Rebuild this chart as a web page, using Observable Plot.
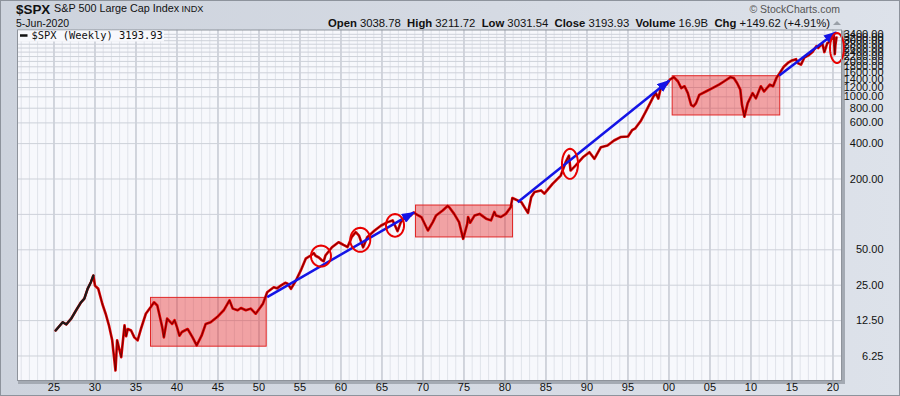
<!DOCTYPE html>
<html><head><meta charset="utf-8">
<script src="https://cdn.jsdelivr.net/npm/d3@7"></script>
<script src="https://cdn.jsdelivr.net/npm/@observablehq/plot@0.6"></script>
<style>
html,body{margin:0;padding:0;}
body{width:900px;height:396px;overflow:hidden;background:linear-gradient(90deg,#cdd3dd 0%,#d5dae3 55%,#dde2ea 100%);font-family:"Liberation Sans",Arial,sans-serif;}
#wrap{position:relative;width:900px;height:396px;}
#border{position:absolute;left:0;top:0;width:898px;height:394px;border:1px solid #8d939c;pointer-events:none;}
#hdr{display:block;}
#chart svg{display:block;}
</style></head><body><div id="wrap"><svg id="hdr" width="900" height="29"></svg><div id="chart"></div><div id="border"></div></div>
<script>
// ---- weekly close series (year, value) ----
const years = [1925.2,1926.06,1926.5,1927.1,1927.7,1928.3,1928.7,1929.1,1929.5,1929.8,1930.0,1930.4,1930.9,1931.3,1931.7,1932.1,1932.5,1932.7,1933.2,1933.6,1934.0,1934.4,1934.8,1935.2,1935.6,1936.2,1936.8,1937.2,1937.6,1938.2,1938.4,1938.8,1939.4,1940.0,1940.6,1941.3,1941.9,1942.4,1943.0,1943.5,1944.1,1944.9,1945.7,1946.4,1946.8,1947.4,1947.8,1948.4,1949.0,1949.6,1950.2,1950.5,1951.0,1951.8,1952.2,1952.7,1953.2,1953.5,1953.9,1954.5,1955.1,1955.7,1956.3,1956.7,1956.9,1957.3,1957.7,1957.9,1958.1,1958.9,1959.7,1960.1,1960.3,1960.8,1961.3,1961.8,1962.2,1962.7,1963.2,1964.1,1964.9,1965.7,1966.3,1966.6,1966.9,1967.3,1968.1,1968.5,1968.9,1969.1,1969.8,1970.6,1971.2,1971.6,1972.4,1973.2,1973.8,1974.4,1974.9,1975.4,1976.3,1976.9,1977.7,1978.3,1978.9,1979.5,1980.1,1980.7,1981.1,1982.0,1982.8,1983.2,1983.6,1984.4,1984.8,1985.8,1986.8,1987.4,1987.8,1988.0,1988.6,1989.5,1990.3,1990.9,1991.7,1992.5,1993.3,1994.1,1995.0,1995.5,1995.9,1996.6,1997.2,1997.7,1998.1,1998.4,1998.7,1999.0,1999.5,1999.7,2000.1,2000.6,2001.1,2001.5,2001.9,2002.3,2002.7,2003.0,2003.3,2003.7,2004.5,2005.3,2006.1,2006.7,2007.5,2007.9,2008.3,2008.7,2008.9,2009.2,2009.6,2010.2,2010.6,2011.2,2011.6,2012.3,2012.7,2013.1,2013.5,2014.0,2014.5,2015.0,2015.5,2015.7,2016.1,2016.5,2017.0,2017.5,2018.0,2018.2,2018.7,2018.95,2019.3,2019.6,2019.9,2020.1,2020.22,2020.3,2020.43];
const closes = [10.3,12.1,11.6,13.0,15.3,17.9,19.2,23.3,26.5,30.2,24.8,23.3,17.3,14.3,11.4,8.5,4.7,8.5,6.1,11.4,10.6,10.3,9.0,8.5,10.6,14.3,16.3,17.9,16.8,11.0,9.0,13.0,11.7,11.0,10.0,10.6,9.0,7.7,9.3,11.7,12.1,13.4,15.3,18.6,15.8,15.3,16.0,15.3,15.8,14.3,16.3,17.5,21.8,24.0,23.5,24.9,26.2,25.7,23.3,27.4,33.4,42.0,44.7,46.8,44.5,43.0,40.6,40.0,44.7,52.5,58.0,56.0,55.0,52.8,64.0,70.6,66.0,52.5,64.0,73.0,80.5,86.0,88.9,80.0,72.0,86.0,97.9,98.0,104,101,95,73,86,98,108,115,101,86,62,83,98,101,92,89,98,95,101,115,136,127,103,140,155,160,150,182,214,278,316,236,260,306,338,297,373,385,425,455,460,520,540,630,755,884,1005,1075,965,1185,1310,1270,1400,1470,1350,1185,1230,1075,855,830,884,1040,1110,1185,1270,1350,1470,1445,1310,1150,855,678,884,1075,970,1230,1110,1270,1230,1445,1590,1800,1940,2040,2090,1940,1880,2150,2250,2400,2700,2600,2850,2400,2850,2950,3200,3350,2300,2750,3193.93];
// extra swings
const extraYears  = [1933.8, 1939.7, 1940.3, 1973.0, 1975.5, 1975.75, 1978.7, 1980.9];
const extraCloses = [9.2, 12.6, 9.3, 118, 95, 85, 105, 138];
const earlyRallyEnd = 1929.8; // last point of the dark early advance

// ---- annotation data ----
const boxStart = [1936.83, 1969.15, 2000.45];
const boxEnd   = [1950.94, 1980.98, 2013.57];
const boxLow   = [7.5, 63.7, 694];
const boxHigh  = [19.5, 119, 1497];

const arrowFromYear  = [1951.0, 1981.55, 2013.45];
const arrowFromValue = [19.8, 127, 1516];
const arrowToYear    = [1968.9, 2000.04, 2020.37];
const arrowToValue   = [104, 1376, 3543];

const circleYear  = [1957.56, 1962.35, 1966.59, 1987.93, 2020.49];
const circleValue = [44.2, 60.8, 80.7, 269, 2600];
const circleHalfWidthYears = [1.22, 1.22, 1.10, 0.98, 0.85];
const circleHalfHeightLog2 = [0.297, 0.339, 0.319, 0.424, 0.424];

// ---- axes ----
const xTickYears = d3.range(1925, 2021, 5);
const xGridYears = d3.range(1921, 2021, 1);
const yTickValues = [6.25, 12.5, 25, 50, 200, 400, 600, 800, 1000, 1200, 1400, 1600, 1800, 2000, 2200, 2400, 2600, 2800, 3000, 3200, 3400];
const yGridValues = [6.25, 12.5, 25, 50, 100, 200, 400, 600, 800, 1000, 1200, 1400, 1600, 1800, 2000, 2200, 2400, 2600, 2800, 3000, 3200, 3400];

const series = years.map((year, i) => ({year, close: closes[i]}))
  .concat(extraYears.map((year, i) => ({year, close: extraCloses[i]})))
  .sort((a, b) => a.year - b.year);
const boxes = boxStart.map((x1, i) => ({x1, x2: boxEnd[i], y1: boxLow[i], y2: boxHigh[i]}));
const arrows = arrowFromYear.map((x1, i) => ({x1, y1: arrowFromValue[i], x2: arrowToYear[i], y2: arrowToValue[i]}));
const ellipsePts = [];
circleYear.forEach((cx, i) => {
  for (let k = 0; k <= 48; k++) {
    const a = (k / 48) * 2 * Math.PI;
    ellipsePts.push({id: i, year: cx + circleHalfWidthYears[i] * Math.cos(a), close: circleValue[i] * Math.pow(2, circleHalfHeightLog2[i] * Math.sin(a))});
  }
});

const NS = "http://www.w3.org/2000/svg";
function filledHead(color, context) {
  const doc = (context && context.document) || document;
  const m = doc.createElementNS(NS, "marker");
  m.setAttribute("viewBox", "0 -5 13 10");
  m.setAttribute("refX", "12");
  m.setAttribute("refY", "0");
  m.setAttribute("markerWidth", "13");
  m.setAttribute("markerHeight", "10");
  m.setAttribute("markerUnits", "userSpaceOnUse");
  m.setAttribute("orient", "auto");
  const p = doc.createElementNS(NS, "path");
  p.setAttribute("d", "M0,-5L13,0L0,5Z");
  p.setAttribute("fill", color);
  p.setAttribute("stroke", "none");
  m.appendChild(p);
  return m;
}

const chart = Plot.plot({
  width: 900, height: 367,
  marginTop: 0.5, marginBottom: 16, marginLeft: 17, marginRight: 59,
  x: {domain: [1920.55, 2021.04]},
  y: {type: "log", domain: [3.868, 3700]},
  style: {background: "transparent", fontFamily: "Liberation Sans, Arial, sans-serif", fontSize: "11px", color: "#111", overflow: "visible"},
  marks: [
    Plot.frame({stroke: "#a4aab3", strokeWidth: 3, dx: 2, dy: 2}),
    Plot.frame({fill: "#f7f8fc", stroke: null}),
    Plot.ruleX(xGridYears, {stroke: "#e0e3ea", strokeWidth: 1}),
    Plot.ruleX(xTickYears, {stroke: "#b7bcc6", strokeWidth: 1}),
    Plot.ruleY(yGridValues, {stroke: "#cdd1d9", strokeWidth: 1}),
    Plot.rect(boxes, {x1: "x1", x2: "x2", y1: "y1", y2: "y2", fill: "#e82020", fillOpacity: 0.4, stroke: "#e02828", strokeWidth: 1}),
    Plot.line(series, {x: "year", y: "close", stroke: "#e00000", strokeWidth: 2.6, strokeLinejoin: "round"}),
    Plot.line(series, {x: "year", y: "close", stroke: "#300000", strokeWidth: 1, strokeOpacity: 0.6}),
    Plot.line(series, {filter: d => d.year <= earlyRallyEnd, x: "year", y: "close", stroke: "#1a1a1a", strokeWidth: 2.2}),
    Plot.link(arrows, {x1: "x1", y1: "y1", x2: "x2", y2: "y2", stroke: "#1414e6", strokeWidth: 2.5, markerEnd: filledHead}),
    Plot.line(ellipsePts, {x: "year", y: "close", z: "id", stroke: "#e80000", strokeWidth: 2}),
    Plot.frame({stroke: "#8e939b", strokeWidth: 1}),
    Plot.axisX(xTickYears, {anchor: "bottom", tickSize: 0, tickPadding: 3, tickFormat: d => String(d % 100).padStart(2, "0"), fontSize: 11, fill: "#111"}),
    Plot.axisY(yTickValues, {anchor: "right", tickSize: 0, tickPadding: 42, textAnchor: "end", text: d => d.toFixed(2), fontSize: 11, fill: "#111"})
  ]
});
document.getElementById("chart").appendChild(chart);

// legend inside plot
const sv = d3.select(chart);
const lg = sv.append("g").attr("text-anchor", "start");
lg.append("rect").attr("x", 18).attr("y", 1.5).attr("width", 146).attr("height", 11).attr("fill", "#f7f8fc");
lg.append("line").attr("x1", 20).attr("x2", 27.5).attr("y1", 6.5).attr("y2", 6.5).attr("stroke", "#111").attr("stroke-width", 2.5);
lg.append("text").attr("x", 31.5).attr("y", 10.3).attr("text-anchor", "start").attr("font-family", "DejaVu Sans Mono, monospace").attr("font-size", "10.4px").attr("fill", "#111").text("$SPX (Weekly) 3193.93");

// header
const h = d3.select("#hdr");
h.append("text").attr("x", 16).attr("y", 13.5).attr("font-size", "13.4px").attr("font-weight", "bold").attr("fill", "#111").text("$SPX");
h.append("text").attr("x", 54).attr("y", 12).attr("font-size", "10.8px").attr("fill", "#111").text("S&P 500 Large Cap Index");
h.append("text").attr("x", 181.5).attr("y", 12).attr("font-size", "9.2px").attr("fill", "#111").text("INDX");
h.append("text").attr("x", 16).attr("y", 26.5).attr("font-size", "10.5px").attr("fill", "#111").text("5-Jun-2020");
h.append("text").attr("x", 840).attr("y", 12.5).attr("text-anchor", "end").attr("font-size", "10.5px").attr("fill", "#555").text("© StockCharts.com");
const info = h.append("text").attr("x", 830).attr("y", 26.5).attr("text-anchor", "end").attr("font-size", "11.3px").attr("fill", "#111");
[["Open", " 3038.78  "], ["High", " 3211.72  "], ["Low", " 3031.54  "], ["Close", " 3193.93  "], ["Volume", " 16.9B  "], ["Chg", " +149.62 (+4.91%)"]].forEach(([k, v]) => {
  info.append("tspan").attr("font-weight", "bold").text(k);
  info.append("tspan").attr("xml:space", "preserve").style("white-space", "pre").text(v);
});
h.append("path").attr("d", "M833,25L837,21L841,25Z").attr("fill", "#9aa0a8");
</script></body></html>
